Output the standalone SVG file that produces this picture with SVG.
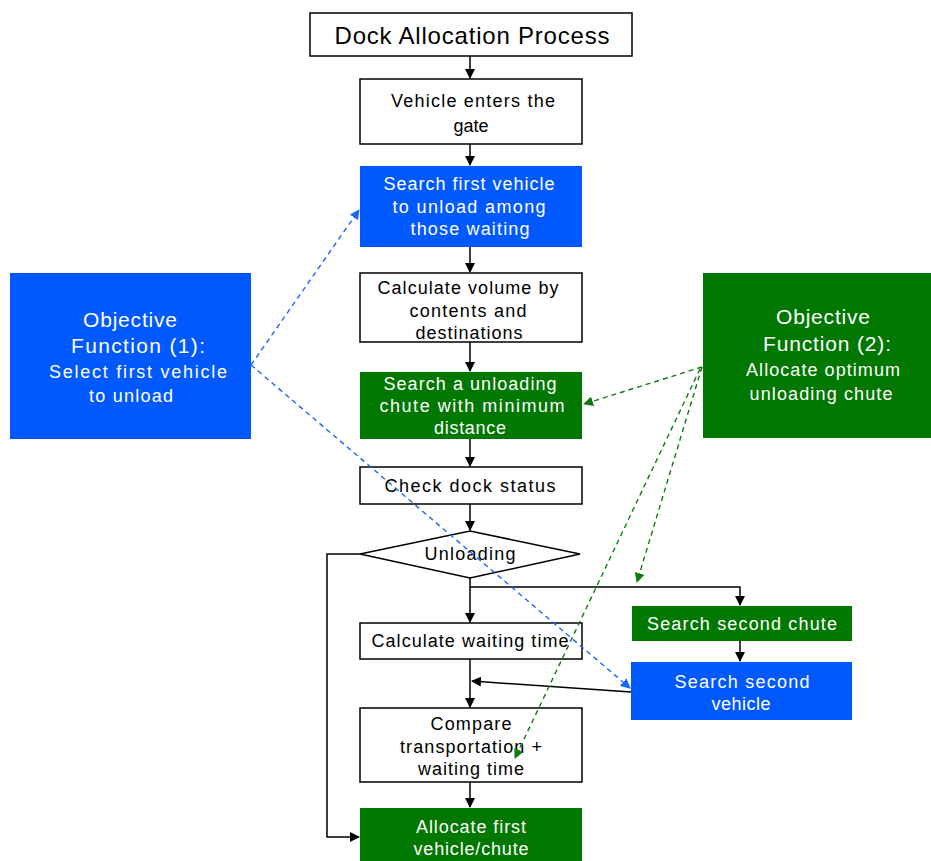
<svg xmlns="http://www.w3.org/2000/svg" width="931" height="861" viewBox="0 0 931 861">
<style>
text{font-family:"Liberation Sans",Arial,sans-serif;font-size:18px;text-anchor:middle;fill:#000}
.w{fill:#fff}
.t{font-size:24px}
.o{font-size:21px}
.box{fill:#fff;stroke:#000;stroke-width:1.5}
.blue{fill:#0059ff}
.green{fill:#007800}
.ln{fill:none;stroke:#000;stroke-width:1.5}
.db{fill:none;stroke:#1a66ff;stroke-width:1.4;stroke-dasharray:5,4}
.dg{fill:none;stroke:#107a10;stroke-width:1.4;stroke-dasharray:5,4}
</style>
<defs>
<marker id="ak" markerWidth="10" markerHeight="10" refX="9" refY="5" orient="auto" markerUnits="userSpaceOnUse" viewBox="0 0 10 10"><path d="M0,0 L10,5 L0,10 z" fill="#000"/></marker>
<marker id="ab" markerWidth="10" markerHeight="10" refX="9" refY="5" orient="auto" markerUnits="userSpaceOnUse" viewBox="0 0 10 10"><path d="M0,0 L10,5 L0,10 z" fill="#1a66ff"/></marker>
<marker id="ag" markerWidth="10" markerHeight="10" refX="9" refY="5" orient="auto" markerUnits="userSpaceOnUse" viewBox="0 0 10 10"><path d="M0,0 L10,5 L0,10 z" fill="#107a10"/></marker>
</defs>
<g id="title"><rect class="box" x="310" y="13" width="322" height="43"/><text class="t" x="472" y="44" textLength="275" lengthAdjust="spacing">Dock Allocation Process</text></g>
<g id="enter"><rect class="box" x="360" y="79" width="222" height="65"/><text x="473" y="107" textLength="164" lengthAdjust="spacing">Vehicle enters the</text><text x="471" y="132">gate</text></g>
<g id="searchfirst"><rect class="blue" x="360" y="166" width="222" height="81"/><text class="w" x="469" y="190" textLength="171" lengthAdjust="spacing">Search first vehicle</text><text class="w" x="469" y="213" textLength="153" lengthAdjust="spacing">to unload among</text><text class="w" x="470" y="235" textLength="119" lengthAdjust="spacing">those waiting</text></g>
<g id="calcvol"><rect class="box" x="360" y="273" width="222" height="69"/><text x="468" y="294" textLength="181" lengthAdjust="spacing">Calculate volume by</text><text x="468" y="317" textLength="117" lengthAdjust="spacing">contents and</text><text x="469" y="339" textLength="107" lengthAdjust="spacing">destinations</text></g>
<g id="searchchute"><rect class="green" x="360" y="372" width="222" height="67"/><text class="w" x="470" y="390" textLength="173" lengthAdjust="spacing">Search a unloading</text><text class="w" x="472" y="412" textLength="185" lengthAdjust="spacing">chute with minimum</text><text class="w" x="470" y="434" textLength="72" lengthAdjust="spacing">distance</text></g>
<g id="check"><rect class="box" x="360" y="467" width="222" height="37"/><text x="470" y="492" textLength="171" lengthAdjust="spacing">Check dock status</text></g>
<g id="unloading"><polygon class="box" points="360,554 470,531 580,554 470,578"/><text x="470" y="560" textLength="91" lengthAdjust="spacing">Unloading</text></g>
<g id="calcwait"><rect class="box" x="360" y="623" width="222" height="36"/><text x="470" y="647" textLength="197" lengthAdjust="spacing">Calculate waiting time</text></g>
<g id="secondchute"><rect class="green" x="632" y="606" width="220" height="35"/><text class="w" x="742" y="630" textLength="190" lengthAdjust="spacing">Search second chute</text></g>
<g id="secondvehicle"><rect class="blue" x="631" y="662" width="221" height="58"/><text class="w" x="742" y="688" textLength="135" lengthAdjust="spacing">Search second</text><text class="w" x="741" y="710" textLength="59" lengthAdjust="spacing">vehicle</text></g>
<g id="compare"><rect class="box" x="360" y="708" width="222" height="74"/><text x="471" y="730" textLength="81" lengthAdjust="spacing">Compare</text><text x="471" y="753" textLength="142" lengthAdjust="spacing">transportation +</text><text x="471" y="775" textLength="106" lengthAdjust="spacing">waiting time</text></g>
<g id="allocate"><rect class="green" x="360" y="808" width="222" height="60"/><text class="w" x="471" y="833" textLength="110" lengthAdjust="spacing">Allocate first</text><text class="w" x="471" y="855" textLength="115" lengthAdjust="spacing">vehicle/chute</text></g>
<g id="obj1"><rect class="blue" x="10" y="273" width="241" height="166"/><text class="w o" x="130" y="327" textLength="94" lengthAdjust="spacing">Objective</text><text class="w o" x="138" y="353" textLength="134" lengthAdjust="spacing">Function (1):</text><text class="w" x="138" y="378" textLength="178" lengthAdjust="spacing">Select first vehicle</text><text class="w" x="131" y="402" textLength="84" lengthAdjust="spacing">to unload</text></g>
<g id="obj2"><rect class="green" x="703" y="273" width="228" height="165"/><text class="w o" x="823" y="324" textLength="94" lengthAdjust="spacing">Objective</text><text class="w o" x="827" y="351" textLength="128" lengthAdjust="spacing">Function (2):</text><text class="w" x="823" y="376" textLength="154" lengthAdjust="spacing">Allocate optimum</text><text class="w" x="821" y="400" textLength="143" lengthAdjust="spacing">unloading chute</text></g>
<g id="connectors">
<line class="ln" x1="470" y1="56" x2="470" y2="78" marker-end="url(#ak)"/>
<line class="ln" x1="470" y1="144" x2="470" y2="165" marker-end="url(#ak)"/>
<line class="ln" x1="470" y1="247" x2="470" y2="272" marker-end="url(#ak)"/>
<line class="ln" x1="470" y1="342" x2="470" y2="371" marker-end="url(#ak)"/>
<line class="ln" x1="470" y1="439" x2="470" y2="466" marker-end="url(#ak)"/>
<line class="ln" x1="470" y1="504" x2="470" y2="530" marker-end="url(#ak)"/>
<polyline class="ln" points="470,578 470,587 740,587 740,605" marker-end="url(#ak)"/>
<line class="ln" x1="470" y1="587" x2="470" y2="622" marker-end="url(#ak)"/>
<line class="ln" x1="740" y1="641" x2="740" y2="661" marker-end="url(#ak)"/>
<line class="ln" x1="470" y1="659" x2="470" y2="707" marker-end="url(#ak)"/>
<line class="ln" x1="631" y1="692" x2="472" y2="681" marker-end="url(#ak)"/>
<line class="ln" x1="470" y1="782" x2="470" y2="807" marker-end="url(#ak)"/>
<polyline class="ln" points="360,554 327,554 327,837 359,837" marker-end="url(#ak)"/>
<line class="db" x1="251" y1="365" x2="359" y2="210" marker-end="url(#ab)"/>
<line class="db" x1="251" y1="365" x2="630" y2="688" marker-end="url(#ab)"/>
<line class="dg" x1="702" y1="367" x2="584" y2="404" marker-end="url(#ag)"/>
<line class="dg" x1="702" y1="367" x2="637" y2="582" marker-end="url(#ag)"/>
<line class="dg" x1="700" y1="369" x2="515" y2="758" marker-end="url(#ag)"/>
</g>
</svg>
